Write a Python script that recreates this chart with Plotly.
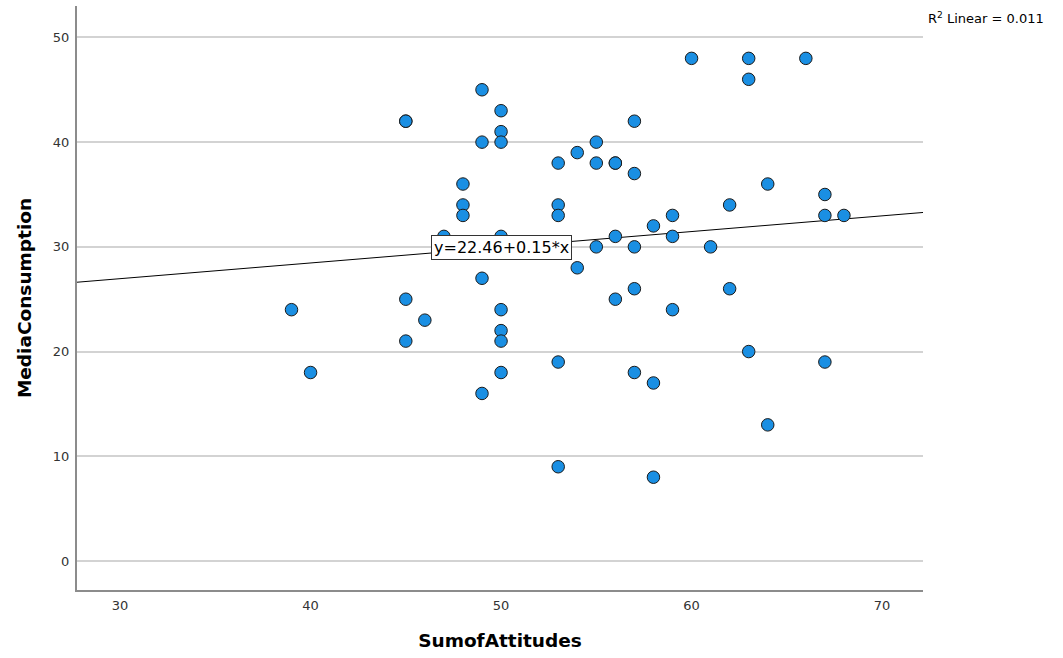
import plotly.graph_objects as go

# Data
sum_of_attitudes = [39, 40, 45, 45, 45, 45, 46, 47, 48, 48, 48, 49, 49, 49, 49,
                    50, 50, 50, 50, 50, 50, 50, 50, 53, 53, 53, 53, 53, 54, 54,
                    55, 55, 55, 56, 56, 56, 56, 57, 57, 57, 57, 57, 58, 58, 58,
                    59, 59, 59, 60, 61, 62, 62, 63, 63, 63, 64, 64, 66, 67, 67, 67, 68]
media_consumption = [24, 18, 42, 42, 25, 21, 23, 31, 36, 34, 33, 45, 40, 27, 16,
                     43, 41, 40, 31, 24, 22, 21, 18, 38, 34, 33, 19, 9, 39, 28,
                     40, 38, 30, 38, 38, 31, 25, 42, 37, 30, 26, 18, 32, 17, 8,
                     33, 31, 24, 48, 30, 34, 26, 48, 46, 20, 36, 13, 48, 35, 33, 19, 33]

fit_intercept = 22.46
fit_slope = 0.15
r_squared = 0.011

x_range = [27.74, 72.15]
y_range = [-2.77, 53.0]
x_ticks = [30, 40, 50, 60, 70]
y_ticks = [0, 10, 20, 30, 40, 50]

fit_x = x_range
fit_y = [fit_intercept + fit_slope * v for v in fit_x]

fig = go.Figure()
fig.add_trace(go.Scatter(
    x=fit_x, y=fit_y, mode="lines",
    line=dict(color="black", width=1),
    hoverinfo="skip", showlegend=False,
))
fig.add_trace(go.Scatter(
    x=sum_of_attitudes, y=media_consumption, mode="markers",
    marker=dict(size=12.5, color="#1a8fe3", line=dict(color="#1a1a1a", width=1)),
    showlegend=False,
))

label_x = 50.0
fig.add_annotation(
    x=label_x, y=fit_intercept + fit_slope * label_x, xref="x", yref="y",
    text=f"y={fit_intercept:.2f}+{fit_slope:.2f}*x", showarrow=False,
    font=dict(family="DejaVu Sans", size=16, color="black"),
    bgcolor="white", bordercolor="#333333", borderwidth=1, borderpad=2,
)
fig.add_annotation(
    x=1.0, y=1.0, xref="paper", yref="paper", xanchor="left", yanchor="top",
    xshift=3, yshift=-2,
    text=f"R<sup>2</sup> Linear = {r_squared}", showarrow=False,
    font=dict(family="DejaVu Sans", size=13, color="black"),
)

fig.update_layout(
    width=1063, height=658, autosize=False,
    margin=dict(l=77, r=140, t=6, b=68),
    plot_bgcolor="white", paper_bgcolor="white",
    font=dict(family="DejaVu Sans", size=13, color="#333333"),
)
fig.update_xaxes(
    range=x_range, tickvals=x_ticks, showgrid=False, zeroline=False,
    showline=True, linecolor="#8c8c8c", linewidth=2,
    ticks="", ticklabelstandoff=2, automargin=False,
    tickfont=dict(family="DejaVu Sans", size=13, color="#333333"),
    title=dict(text="<b>SumofAttitudes</b>", standoff=22,
               font=dict(family="DejaVu Sans", size=18.5, color="black")),
)
fig.update_yaxes(
    range=y_range, tickvals=y_ticks, showgrid=True, gridcolor="#d3d3d3", gridwidth=1.5,
    zeroline=False, showline=True, linecolor="#8c8c8c", linewidth=2,
    ticks="", ticklabelstandoff=3, automargin=False,
    tickfont=dict(family="DejaVu Sans", size=13, color="#333333"),
    title=dict(text="<b>MediaConsumption</b>", standoff=16,
               font=dict(family="DejaVu Sans", size=18.5, color="black")),
)

fig.write_html("out.html", config={"displayModeBar": False},
               post_script="document.body.style.margin='0';")
